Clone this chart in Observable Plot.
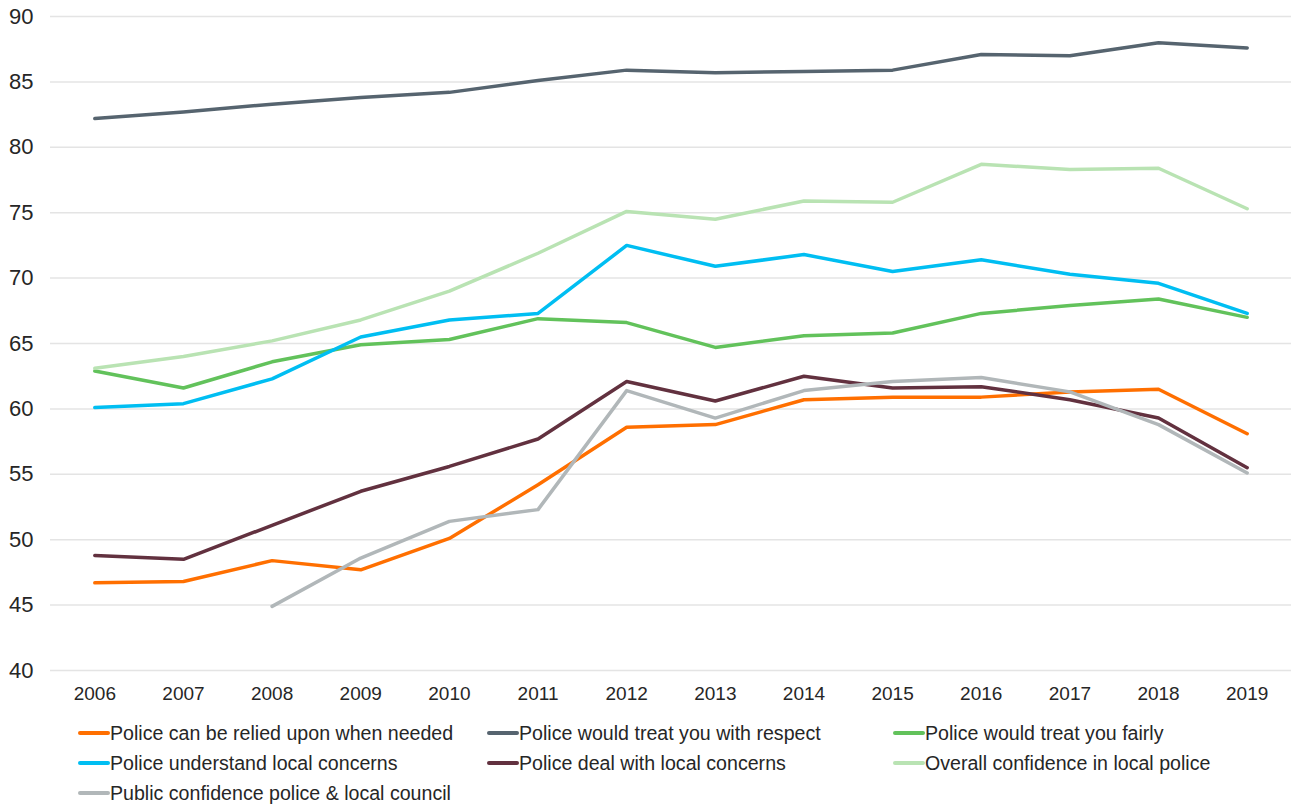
<!DOCTYPE html>
<html>
<head>
<meta charset="utf-8">
<script src="https://cdn.jsdelivr.net/npm/d3@7"></script>
<script src="https://cdn.jsdelivr.net/npm/@observablehq/plot@0.6"></script>
<style>
  html, body { margin: 0; padding: 0; background: #fff; }
  #chart { width: 1295px; }
  #legend {
    display: grid;
    grid-template-columns: 409px 406px 400px;
    padding-left: 78px;
    padding-top: 8px;
    font-family: "Liberation Sans", Arial, sans-serif;
    font-size: 19.6px;
    color: #262626;
  }
  .item { display: flex; align-items: center; height: 30px; white-space: nowrap; }
  .sw { width: 32px; height: 4px; border-radius: 2px; margin-right: 0px; }
</style>
</head>
<body>
<div id="chart"></div>
<div id="legend"></div>
<script>
const years = [2006, 2007, 2008, 2009, 2010, 2011, 2012, 2013, 2014, 2015, 2016, 2017, 2018, 2019];

const seriesNames = [
  "Police can be relied upon when needed",
  "Police would treat you with respect",
  "Police would treat you fairly",
  "Police understand local concerns",
  "Police deal with local concerns",
  "Overall confidence in local police",
  "Public confidence police & local council"
];

const seriesColors = ["#FF6F00", "#56646F", "#62C25B", "#00BEF2", "#62313F", "#B9E3B3", "#B1B7B9"];

const reliedUpon   = [46.7, 46.8, 48.4, 47.7, 50.1, 54.2, 58.6, 58.8, 60.7, 60.9, 60.9, 61.3, 61.5, 58.1];
const respect      = [82.2, 82.7, 83.3, 83.8, 84.2, 85.1, 85.9, 85.7, 85.8, 85.9, 87.1, 87.0, 88.0, 87.6];
const fairly       = [62.9, 61.6, 63.6, 64.9, 65.3, 66.9, 66.6, 64.7, 65.6, 65.8, 67.3, 67.9, 68.4, 67.0];
const understand   = [60.1, 60.4, 62.3, 65.5, 66.8, 67.3, 72.5, 70.9, 71.8, 70.5, 71.4, 70.3, 69.6, 67.3];
const dealWith     = [48.8, 48.5, 51.1, 53.7, 55.6, 57.7, 62.1, 60.6, 62.5, 61.6, 61.7, 60.7, 59.3, 55.5];
const overall      = [63.1, 64.0, 65.2, 66.8, 69.0, 71.9, 75.1, 74.5, 75.9, 75.8, 78.7, 78.3, 78.4, 75.3];
const policeCouncil = [null, null, 44.9, 48.6, 51.4, 52.3, 61.4, 59.3, 61.4, 62.1, 62.4, 61.3, 58.8, 55.1];

const yTicks = [40, 45, 50, 55, 60, 65, 70, 75, 80, 85, 90];

const allSeries = [reliedUpon, respect, fairly, understand, dealWith, overall, policeCouncil];
const data = [];
allSeries.forEach((vals, i) => {
  vals.forEach((v, j) => {
    if (v != null) data.push({series: seriesNames[i], year: years[j], value: v});
  });
});

const chart = Plot.plot({
  width: 1295,
  height: 710,
  marginTop: 16,
  marginBottom: 40,
  marginLeft: 50,
  marginRight: 4,
  style: {fontFamily: "'Liberation Sans', Arial, sans-serif", color: "#262626", background: "#fff"},
  x: {type: "linear", domain: [2005.5, 2019.5]},
  y: {domain: [40, 90]},
  color: {domain: seriesNames, range: seriesColors},
  marks: [
    Plot.gridY(yTicks, {stroke: "#e4e4e4", strokeOpacity: 1, strokeWidth: 1.5}),
    Plot.axisY(yTicks, {tickSize: 0, tickPadding: 17, fontSize: 22, label: null, fill: "#262626"}),
    Plot.axisX(years, {tickSize: 0, tickPadding: 16, fontSize: 19, label: null, tickFormat: d => String(d), fill: "#262626"}),
    Plot.line(data, {x: "year", y: "value", z: "series", stroke: "series", strokeWidth: 3.5, strokeLinejoin: "round", strokeLinecap: "round"})
  ]
});
document.getElementById("chart").appendChild(chart);

const legend = d3.select("#legend");
seriesNames.forEach((name, i) => {
  const item = legend.append("div").attr("class", "item");
  item.append("div").attr("class", "sw").style("background", seriesColors[i]);
  item.append("span").text(name);
});
</script>
</body>
</html>
